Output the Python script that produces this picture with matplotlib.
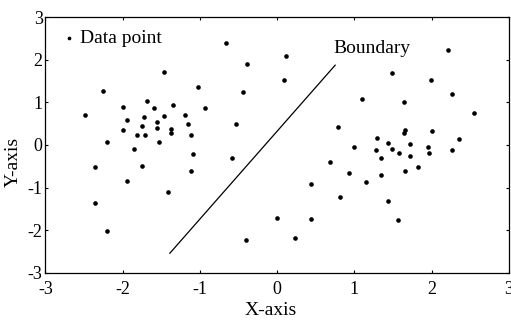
import matplotlib
matplotlib.use('Agg')
import matplotlib.pyplot as plt
import numpy as np

plt.rcParams['font.family'] = ['Liberation Serif', 'DejaVu Serif']
plt.rcParams['axes.unicode_minus'] = False

# class 1 (left cluster)
x_left = [-0.66, -0.39, -1.47, -2.26, -1.02, -0.44, -2.49, -1.68, -2.00, -1.60,
          -1.35, -0.94, -1.94, -1.72, -1.46, -1.19, -1.55, -1.15, -1.75, -1.99,
          -1.56, -1.38, -1.82, -1.71, -1.38, -1.12, -0.54, -2.21, -1.53, -1.85,
          -1.09, -0.58, -2.36, -1.75, -1.11, -1.95, -1.41, -2.36, -2.21, -0.41]
y_left = [2.39, 1.90, 1.71, 1.26, 1.36, 1.24, 0.70, 1.03, 0.89, 0.87,
          0.94, 0.87, 0.59, 0.65, 0.69, 0.71, 0.53, 0.49, 0.45, 0.36,
          0.39, 0.37, 0.24, 0.24, 0.28, 0.24, 0.49, 0.07, 0.07, -0.09,
          -0.21, -0.31, -0.51, -0.49, -0.60, -0.84, -1.10, -1.36, -2.03, -2.22]

# class 2 (right cluster)
x_right = [0.12, 0.09, 2.21, 1.48, 1.99, 1.10, 1.64, 2.26, 2.55, 0.79,
           1.66, 1.64, 2.01, 1.29, 1.43, 1.72, 2.35, 0.99, 1.28, 1.48,
           1.58, 1.95, 1.97, 2.26, 1.34, 1.72, 0.68, 1.82, 0.93, 1.35,
           1.66, 1.15, 0.44, 0.81, 1.43, 0.00, 0.44, 1.56, 0.23]
y_right = [2.09, 1.52, 2.23, 1.68, 1.52, 1.08, 1.00, 1.19, 0.75, 0.42,
           0.35, 0.28, 0.33, 0.16, 0.05, 0.02, 0.14, -0.05, -0.11, -0.09,
           -0.19, -0.05, -0.19, -0.11, -0.31, -0.27, -0.40, -0.51, -0.66, -0.70,
           -0.62, -0.86, -0.91, -1.22, -1.31, -1.71, -1.73, -1.76, -2.18]

# separating line
boundary_x = [-1.39, 0.75]
boundary_y = [-2.54, 1.87]

ticks = [-3, -2, -1, 0, 1, 2, 3]

fig = plt.figure(figsize=(5.11, 3.21), dpi=100)
ax = fig.add_axes([0.089, 0.150, 0.907, 0.797])

x_all = np.concatenate([x_left, x_right])
y_all = np.concatenate([y_left, y_right])
ax.scatter(x_all, y_all, s=11, c='k', marker='o', linewidths=0, label='Data point')
ax.plot(boundary_x, boundary_y, color='k', lw=0.9)
ax.text(0.73, 2.27, 'Boundary', fontsize=14, va='center', ha='left')

ax.legend(loc='upper left', bbox_to_anchor=(0.02, 0.99), frameon=False, fontsize=14,
          handlelength=0.5, handletextpad=0.3, borderaxespad=0.3, borderpad=0.2,
          scatterpoints=1, markerscale=0.8)

ax.set_xlim(-3, 3)
ax.set_ylim(-3, 3)
ax.set_xticks(ticks)
ax.set_yticks(ticks)
ax.set_xticklabels([str(t) for t in ticks])
ax.set_yticklabels([str(t) for t in ticks])
ax.tick_params(direction='in', length=2.5, width=0.8, top=True, right=True,
               labelsize=13)
ax.tick_params(axis='x', pad=6)
ax.tick_params(axis='y', pad=2)
for sp in ax.spines.values():
    sp.set_linewidth(0.9)

ax.set_xlabel('X-axis', fontsize=14)
ax.set_ylabel('Y-axis', fontsize=14)
ax.xaxis.set_label_coords(0.485, -0.112)
ax.yaxis.set_label_coords(-0.051, 0.434)

fig.savefig('out.png', dpi=100)
